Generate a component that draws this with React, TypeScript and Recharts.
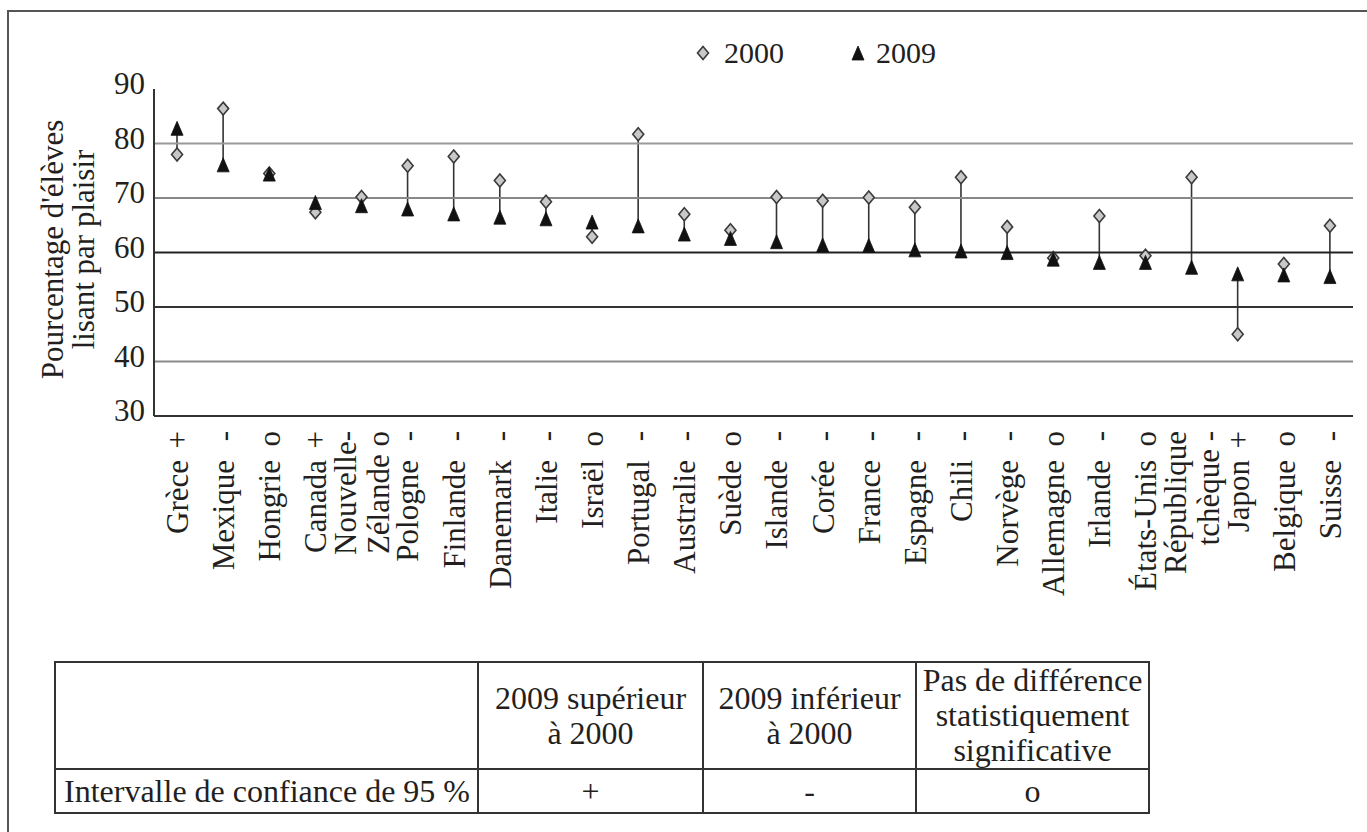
import React from "react"
import {
  ComposedChart,
  Bar,
  Line,
  XAxis,
  YAxis,
  ReferenceLine,
  Legend,
  Label,
} from "recharts"

const FONT = '"Liberation Serif", "DejaVu Serif", serif'
const INK = "#231f20"

const countries = [
  "Grèce", "Mexique", "Hongrie", "Canada", "Nouvelle-Zélande", "Pologne",
  "Finlande", "Danemark", "Italie", "Israël", "Portugal", "Australie",
  "Suède", "Islande", "Corée", "France", "Espagne", "Chili", "Norvège",
  "Allemagne", "Irlande", "États-Unis", "République tchèque", "Japon",
  "Belgique", "Suisse",
]

const signs = [
  "+", "-", "o", "+", "o", "-", "-", "-", "-", "o", "-", "-", "o",
  "-", "-", "-", "-", "-", "-", "o", "-", "o", "-", "+", "o", "-",
]

const values2000 = [
  78.0, 86.4, 74.5, 67.4, 70.2, 75.9, 77.6, 73.2, 69.3, 62.9, 81.7, 67.0, 64.1,
  70.2, 69.5, 70.1, 68.3, 73.8, 64.7, 59.0, 66.7, 59.4, 73.8, 45.0, 57.9, 64.9,
]

const values2009 = [
  82.6, 75.9, 74.2, 69.0, 68.4, 67.8, 66.9, 66.3, 66.0, 65.4, 64.7, 63.2, 62.4,
  61.8, 61.2, 61.1, 60.3, 60.1, 59.8, 58.6, 58.0, 58.0, 57.1, 55.9, 55.7, 55.4,
]

const yTicks = [30, 40, 50, 60, 70, 80, 90]
const gridTicks = [40, 50, 60, 70, 80]
const gridColors: Record<number, string> = {
  40: "#8a8a8a",
  50: "#333",
  60: "#222",
  70: "#888",
  80: "#9a9a9a",
}

// labels that wrap onto two lines
const splitLabels: Record<string, string[]> = {
  "Nouvelle-Zélande": ["Nouvelle-", "Zélande"],
  "République tchèque": ["République", "tchèque"],
}

const data = countries.map((country, i) => ({
  country,
  v2000: values2000[i],
  v2009: values2009[i],
  span: [Math.min(values2000[i], values2009[i]), Math.max(values2000[i], values2009[i])],
}))

const Diamond = (props: any) => {
  const { cx, cy } = props
  if (cx == null || cy == null) return null
  return (
    <path
      d={`M${cx},${cy - 6.5} L${cx + 5.5},${cy} L${cx},${cy + 6.5} L${cx - 5.5},${cy} Z`}
      fill="#c8c8c8"
      stroke="#3a3a3a"
      strokeWidth={1.6}
    />
  )
}

const Triangle = (props: any) => {
  const { cx, cy } = props
  if (cx == null || cy == null) return null
  return (
    <path
      d={`M${cx},${cy - 8} L${cx + 6},${cy + 6} L${cx - 6},${cy + 6} Z`}
      fill="#111"
      stroke="#111"
      strokeWidth={0.8}
    />
  )
}

const SpanLine = (props: any) => {
  const { x, y, width, height } = props
  if (x == null || y == null) return null
  const cx = x + width / 2
  return <line x1={cx} x2={cx} y1={y} y2={y + height} stroke="#333" strokeWidth={1.6} />
}

const CountryTick = (props: any) => {
  const { x, y, payload } = props
  const name = payload.value as string
  const idx = countries.indexOf(name)
  const sign = signs[idx]
  const lines = splitLabels[name]
  const textProps = {
    fontSize: 31,
    fontFamily: FONT,
    fill: INK,
    textAnchor: "end" as const,
    dy: "0.35em",
  }
  if (lines) {
    const step = 33
    const start = -((lines.length - 1) * step) / 2
    return (
      <g transform={`translate(${x},${y})`}>
        {lines.map((ln, k) => (
          <text key={k} {...textProps} transform={`translate(${start + k * step},0) rotate(-90)`}>
            {k === lines.length - 1 ? `${ln} ${sign}` : ln}
          </text>
        ))}
      </g>
    )
  }
  return (
    <g transform={`translate(${x},${y})`}>
      <text {...textProps} transform="rotate(-90)">
        {sign}
      </text>
      <text {...textProps} transform="translate(0,29) rotate(-90)">
        {name}
      </text>
    </g>
  )
}

const ValueTick = (props: any) => {
  const { x, y, payload } = props
  return (
    <text x={x} y={y} dy={5} textAnchor="end" fontSize={31} fontFamily={FONT} fill={INK}>
      {payload.value}
    </text>
  )
}

const AxisTitle = (props: any) => {
  const vb = props.viewBox || {}
  const cy = (vb.y ?? 0) + (vb.height ?? 0) / 2 - 3
  const common = {
    fontSize: 31,
    fontFamily: FONT,
    fill: INK,
    textAnchor: "middle" as const,
    dy: "0.33em",
  }
  return (
    <g>
      <text {...common} transform={`translate(${(vb.x ?? 0) + 53},${cy}) rotate(-90)`}>
        Pourcentage d'élèves
      </text>
      <text {...common} transform={`translate(${(vb.x ?? 0) + 84},${cy}) rotate(-90)`}>
        lisant par plaisir
      </text>
    </g>
  )
}

const LegendBox = (props: any) => {
  const items = (props.payload || []).filter((p: any) => p.value === "2000" || p.value === "2009")
  return (
    <div style={{ display: "flex", alignItems: "center", fontFamily: FONT, fontSize: 30, color: INK }}>
      {items.map((it: any, k: number) => (
        <div key={it.value} style={{ display: "flex", alignItems: "center", marginRight: k === 0 ? 66 : 0 }}>
          <svg width={16} height={18} style={{ marginRight: it.value === "2000" ? 13 : 10 }}>
            {it.value === "2000" ? <Diamond cx={8} cy={9} /> : <Triangle cx={8} cy={10} />}
          </svg>
          <span style={{ lineHeight: "30px" }}>{it.value}</span>
        </div>
      ))}
    </div>
  )
}

const tableHeaders = [
  "2009 supérieur\nà 2000",
  "2009 inférieur\nà 2000",
  "Pas de différence\nstatistiquement\nsignificative",
]
const tableRowLabel = "Intervalle de confiance de 95 %"
const tableRowSigns = ["+", "-", "o"]

const cellBorder = "2px solid #333"

function SignTable() {
  const cell: React.CSSProperties = {
    border: cellBorder,
    textAlign: "center",
    verticalAlign: "middle",
    padding: 0,
    whiteSpace: "pre-line",
    lineHeight: "35px",
  }
  return (
    <table
      style={{
        position: "absolute",
        left: 54,
        top: 661,
        width: 1094,
        borderCollapse: "collapse",
        fontFamily: FONT,
        fontSize: 32,
        color: INK,
        tableLayout: "fixed",
      }}
    >
      <colgroup>
        <col style={{ width: 423 }} />
        <col style={{ width: 225 }} />
        <col style={{ width: 213 }} />
        <col style={{ width: 233 }} />
      </colgroup>
      <tbody>
        <tr style={{ height: 107 }}>
          <td style={cell}></td>
          {tableHeaders.map((h) => (
            <td key={h} style={cell}>
              {h}
            </td>
          ))}
        </tr>
        <tr style={{ height: 44 }}>
          <td style={{ ...cell, textAlign: "left", paddingLeft: 8, whiteSpace: "nowrap" }}>{tableRowLabel}</td>
          {tableRowSigns.map((s) => (
            <td key={s} style={cell}>
              {s}
            </td>
          ))}
        </tr>
      </tbody>
    </table>
  )
}

export default function App() {
  return (
    <div style={{ position: "relative", width: 1367, height: 832, background: "#fff", overflow: "hidden" }}>
      <style>{"body{margin:0;background:#fff}"}</style>
      <div style={{ position: "absolute", left: 7, top: 10, width: 1360, height: 2, background: "#555" }} />
      <div style={{ position: "absolute", left: 7, top: 10, width: 2, height: 822, background: "#555" }} />
      <ComposedChart
        width={1367}
        height={832}
        data={data}
        margin={{ top: 89, right: 14, left: 0, bottom: 0 }}
        barCategoryGap={0}
      >
        <XAxis
          dataKey="country"
          interval={0}
          height={416}
          tick={<CountryTick />}
          tickLine={false}
          tickSize={0}
          tickMargin={15}
          axisLine={{ stroke: "#333", strokeWidth: 2 }}
        />
        <XAxis
          xAxisId="top"
          dataKey="country"
          orientation="top"
          height={0}
          tick={false}
          tickLine={false}
          axisLine={{ stroke: "#333", strokeWidth: 2 }}
        />
        <YAxis
          type="number"
          domain={[30, 90]}
          ticks={yTicks}
          width={154}
          tick={<ValueTick />}
          tickLine={false}
          tickSize={6}
          tickMargin={3}
          axisLine={{ stroke: "#333", strokeWidth: 2 }}
        >
          <Label content={<AxisTitle />} />
        </YAxis>
        <YAxis
          yAxisId="right"
          orientation="right"
          type="number"
          domain={[30, 90]}
          width={0}
          tick={false}
          tickLine={false}
          axisLine={{ stroke: "#333", strokeWidth: 2 }}
        />
        {gridTicks.map((t) => (
          <ReferenceLine key={t} y={t} stroke={gridColors[t]} strokeWidth={2} />
        ))}
        <Legend
          layout="horizontal"
          verticalAlign="middle"
          align="center"
          content={<LegendBox />}
          wrapperStyle={{ position: "absolute", top: 38, left: 695, width: 300, height: 32 }}
        />
        <Bar dataKey="span" shape={<SpanLine />} legendType="none" isAnimationActive={false} />
        <Line
          dataKey="v2000"
          name="2000"
          stroke="none"
          dot={<Diamond />}
          activeDot={false}
          isAnimationActive={false}
        />
        <Line
          dataKey="v2009"
          name="2009"
          stroke="none"
          dot={<Triangle />}
          activeDot={false}
          isAnimationActive={false}
        />
      </ComposedChart>
      <SignTable />
    </div>
  )
}
